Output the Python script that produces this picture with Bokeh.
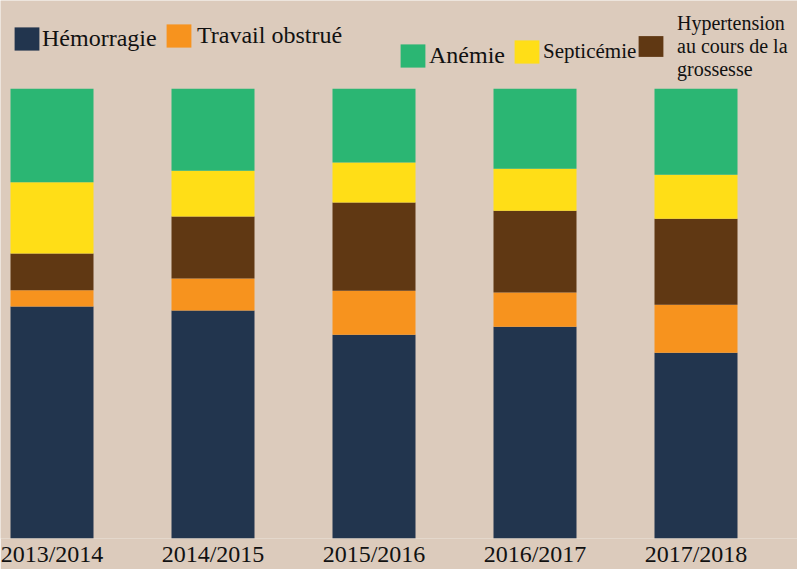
from bokeh.plotting import figure
from bokeh.models import ColumnDataSource, Range1d, FixedTicker, Legend, LegendItem
from bokeh.embed import file_html
from bokeh.resources import INLINE

years = ["2013/2014", "2014/2015", "2015/2016", "2016/2017", "2017/2018"]
hemorragie = [51.6, 50.7, 45.3, 47.1, 41.3]
travail = [3.6, 7.1, 9.8, 7.6, 10.7]
hypertension = [8.2, 13.8, 19.6, 18.2, 19.1]
septicemie = [15.8, 10.2, 8.9, 9.3, 9.8]
anemie = [20.8, 18.2, 16.4, 17.8, 19.1]

series = ["hemorragie", "travail", "hypertension", "septicemie", "anemie"]
colors = ["#22354e", "#f7931e", "#603813", "#ffde17", "#2bb673"]
labels = ["Hémorragie", "Travail obstrué",
          "Hypertension\nau cours de la\ngrossesse", "Septicémie", "Anémie"]

src = ColumnDataSource(dict(x=list(range(len(years))), hemorragie=hemorragie,
                            travail=travail, hypertension=hypertension,
                            septicemie=septicemie, anemie=anemie))

BG = "#dccbbc"
W, H = 797, 569
BOTTOM = 30
FRAME_H = H - BOTTOM

p = figure(width=W, height=H, output_backend="svg", toolbar_location=None,
           x_range=Range1d(-0.3199, 4.6304), y_range=Range1d(0, 119.64),
           min_border_left=0, min_border_right=0, min_border_top=0,
           min_border_bottom=BOTTOM)
p.background_fill_color = BG
p.border_fill_color = BG
p.outline_line_color = None
p.grid.visible = False
p.yaxis.visible = False

renderers = p.vbar_stack(series, x="x", width=0.5155, source=src,
                         color=colors, line_color=None)

xa = p.xaxis[0]
xa.ticker = FixedTicker(ticks=list(range(len(years))))
xa.major_label_overrides = {i: y for i, y in enumerate(years)}
xa.axis_line_color = None
xa.major_tick_line_color = None
xa.minor_tick_line_color = None
xa.major_tick_out = 0
xa.minor_tick_out = 0
xa.major_tick_in = 0
xa.major_label_standoff = 2
xa.major_label_text_font = "Liberation Serif"
xa.major_label_text_font_size = "24px"
xa.major_label_text_color = "#111111"

# legend placement: glyph left, item centre y, glyph w, glyph h, item h, standoff, font
place = {
    "hemorragie": (11, 39.75, 31, 29, 29, -3, "24px"),
    "travail": (163, 36.25, 31, 29, 29, 3, "24px"),
    "anemie": (397, 56.25, 31, 29, 29, 1, "24px"),
    "septicemie": (511, 52.6, 31, 29, 29, 1, "21px"),
    "hypertension": (635, 46.75, 31, 26, 70, 11, "20px"),
}
for name, lab, r in zip(series, labels, renderers):
    gx, cy, gw, gh, ih, so, fs = place[name]
    leg = Legend(items=[LegendItem(label=lab, renderers=[r])],
                 location=(gx, FRAME_H - (cy + ih / 2)),
                 background_fill_alpha=0, border_line_alpha=0,
                 padding=0, margin=0, spacing=0,
                 glyph_width=gw, glyph_height=gh, label_standoff=so,
                 label_height=20,
                 label_text_font="Liberation Serif",
                 label_text_font_size=fs, label_text_color="#111111")
    p.add_layout(leg)

open("out.html", "w").write(file_html(p, INLINE))
